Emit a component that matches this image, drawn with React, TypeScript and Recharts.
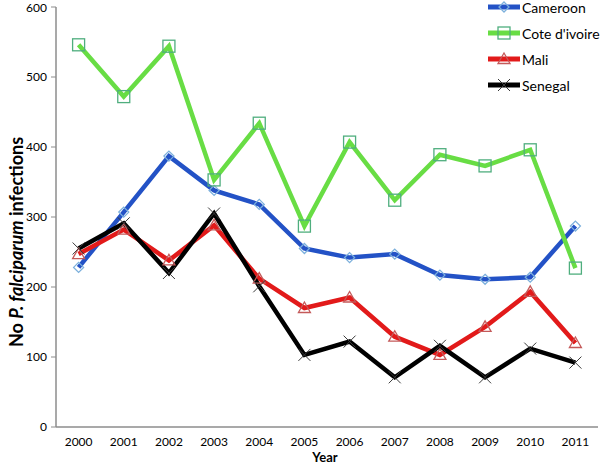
import React from "react";
import { LineChart, Line, XAxis, YAxis } from "recharts";

const years = ["2000", "2001", "2002", "2003", "2004", "2005", "2006", "2007", "2008", "2009", "2010", "2011"];
const cameroon = [228, 307, 387, 338, 318, 255, 242, 247, 217, 211, 214, 287];
const coteDivoire = [546, 472, 544, 353, 434, 287, 407, 324, 389, 373, 396, 227];
const mali = [247, 282, 238, 288, 212, 170, 185, 129, 103, 143, 193, 120];
const senegal = [255, 291, 220, 305, 201, 103, 122, 71, 116, 71, 112, 92];
const yTicks = [0, 100, 200, 300, 400, 500, 600];

const data = years.map((year, i) => ({
  year,
  Cameroon: cameroon[i],
  "Cote d'ivoire": coteDivoire[i],
  Mali: mali[i],
  Senegal: senegal[i],
}));

type Shape = "diamond" | "square" | "triangle" | "cross";

const series: { key: string; color: string; marker: string; shape: Shape }[] = [
  { key: "Cameroon", color: "#2352c6", marker: "#7cb0dc", shape: "diamond" },
  { key: "Cote d'ivoire", color: "#68dd44", marker: "#4fae7e", shape: "square" },
  { key: "Mali", color: "#e21a1a", marker: "#c45a5a", shape: "triangle" },
  { key: "Senegal", color: "#000000", marker: "#3a3a3a", shape: "cross" },
];

function Marker({ cx, cy, shape, color }: { cx: number; cy: number; shape: Shape; color: string }) {
  if (cx == null || cy == null) return null;
  if (shape === "diamond") {
    const r = 5;
    return (
      <path
        d={`M${cx},${cy - r}L${cx + r},${cy}L${cx},${cy + r}L${cx - r},${cy}Z`}
        fill="none"
        stroke={color}
        strokeWidth={1.3}
      />
    );
  }
  if (shape === "square") {
    const r = 6;
    return <rect x={cx - r} y={cy - r} width={2 * r} height={2 * r} fill="none" stroke={color} strokeWidth={1.3} />;
  }
  if (shape === "triangle") {
    const r = 6;
    return (
      <path
        d={`M${cx},${cy - r}L${cx + r},${cy + r * 0.75}L${cx - r},${cy + r * 0.75}Z`}
        fill="none"
        stroke={color}
        strokeWidth={1.3}
      />
    );
  }
  const r = 6;
  return (
    <path
      d={`M${cx - r},${cy - r}L${cx + r},${cy + r}M${cx + r},${cy - r}L${cx - r},${cy + r}`}
      stroke={color}
      strokeWidth={1}
    />
  );
}

function ChartLegend() {
  return (
    <div style={{ position: "absolute", left: 488, top: -6 }}>
      {series.map((s) => (
        <div key={s.key} style={{ display: "flex", alignItems: "center", height: 26 }}>
          <svg width={34} height={26} style={{ display: "block" }}>
            <line x1={0} y1={13} x2={32} y2={13} stroke={s.color} strokeWidth={5} />
            <Marker cx={16} cy={13} shape={s.shape} color={s.marker} />
          </svg>
          <span style={{ fontSize: 14, color: "#000", whiteSpace: "nowrap" }}>{s.key}</span>
        </div>
      ))}
    </div>
  );
}

export default function App() {
  return (
    <div
      style={{
        position: "absolute",
        left: 0,
        top: 0,
        width: 600,
        height: 464,
        fontFamily: "Lato, sans-serif",
        background: "#fff",
      }}
    >
      <LineChart width={600} height={464} data={data} margin={{ top: 7, right: 2, left: 0, bottom: 0 }}>
        <XAxis
          dataKey="year"
          height={37}
          padding={{ left: 22.6, right: 22.6 }}
          tickLine={false}
          tickMargin={4}
          axisLine={{ stroke: "#8c8c8c", strokeWidth: 1.5 }}
          tick={{ fill: "#000", fontSize: 12 }}
          interval={0}
          label={{
            content: () => (
              <text x={325} y={462} textAnchor="middle" fontSize={13} fontWeight="bold" fill="#000">
                Year
              </text>
            ),
          }}
        />
        <YAxis
          width={56}
          domain={[0, 600]}
          ticks={yTicks}
          tickSize={5}
          tickMargin={4}
          axisLine={{ stroke: "#8c8c8c", strokeWidth: 1.5 }}
          tickLine={{ stroke: "#8c8c8c" }}
          tick={{ fill: "#000", fontSize: 12 }}
          label={{
            content: () => (
              <text
                x={16}
                y={242}
                transform="rotate(-90 16 242)"
                textAnchor="middle"
                dominantBaseline="central"
                fontSize={18}
                fontWeight="bold"
                fill="#000"
              >
                No <tspan fontStyle="italic">P. falciparum</tspan> infections
              </text>
            ),
          }}
        />
        {series.map((s) => (
          <Line
            key={s.key}
            type="linear"
            dataKey={s.key}
            stroke={s.color}
            strokeWidth={4.5}
            isAnimationActive={false}
            dot={(p: any) => <Marker key={`${s.key}-${p.index}`} cx={p.cx} cy={p.cy} shape={s.shape} color={s.marker} />}
            activeDot={false}
          />
        ))}
      </LineChart>
      <ChartLegend />
    </div>
  );
}
